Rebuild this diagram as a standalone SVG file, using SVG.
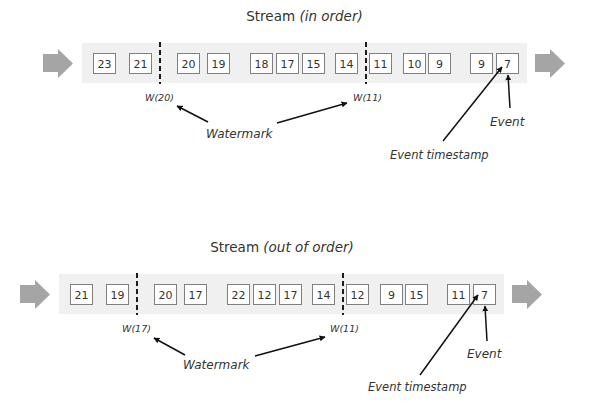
<svg xmlns="http://www.w3.org/2000/svg" width="600" height="413" viewBox="0 0 600 413">
<defs>
<style>
.bg{fill:#ffffff}
.band{fill:#f0f0f0}
.flow{fill:#a5a5a5}
.box rect{fill:#ffffff;stroke:#7f7f7f;stroke-width:1}
.box text{font-family:"DejaVu Sans",Verdana,sans-serif;font-size:11px;fill:#333333;text-anchor:middle}
.title{font-family:"DejaVu Sans",Verdana,sans-serif;font-size:13.5px;fill:#333333;text-anchor:middle}
.it{font-style:italic}
.wm{fill:none;stroke:#1a1a1a;stroke-width:2;stroke-dasharray:5,3}
.wlabel{font-family:"DejaVu Sans",Verdana,sans-serif;font-size:9.5px;font-style:italic;fill:#333333}
.note{font-family:"DejaVu Sans",Verdana,sans-serif;font-size:12px;font-style:italic;fill:#333333}
.conn line{stroke:#111111;stroke-width:1.5;marker-end:url(#ah)}
</style>
<marker id="ah" viewBox="0 0 10 10" refX="9" refY="5" markerWidth="6" markerHeight="6" markerUnits="userSpaceOnUse" orient="auto">
<path d="M0,0 L10,5 L0,10 z" fill="#111111"/>
</marker>
</defs>
<rect class="bg" x="0" y="0" width="600" height="413"/>

<g id="stream-in-order">
  <text class="title" x="304.5" y="21">Stream <tspan class="it">(in order)</tspan></text>
  <rect class="band" x="82" y="43" width="445" height="40"/>
  <path class="flow" d="M43,54 H58 V49 L73,63.5 L58,78 V72 H43 Z"/>
  <path class="flow" d="M535,54 H550 V49 L565,63.5 L550,78 V72 H535 Z"/>
  <g id="a23" class="box"><rect x="93.5" y="53.5" width="22" height="20"/><text x="104.5" y="68">23</text></g>
  <g id="a21" class="box"><rect x="129.5" y="53.5" width="22" height="20"/><text x="140.5" y="68">21</text></g>
  <g id="a20" class="box"><rect x="177.5" y="53.5" width="22" height="20"/><text x="188.5" y="68">20</text></g>
  <g id="a19" class="box"><rect x="207.5" y="53.5" width="22" height="20"/><text x="218.5" y="68">19</text></g>
  <g id="a18" class="box"><rect x="250.5" y="53.5" width="22" height="20"/><text x="261.5" y="68">18</text></g>
  <g id="a17" class="box"><rect x="276.5" y="53.5" width="22" height="20"/><text x="287.5" y="68">17</text></g>
  <g id="a15" class="box"><rect x="302.5" y="53.5" width="22" height="20"/><text x="313.5" y="68">15</text></g>
  <g id="a14" class="box"><rect x="335.5" y="53.5" width="22" height="20"/><text x="346.5" y="68">14</text></g>
  <g id="a11" class="box"><rect x="369.5" y="53.5" width="22" height="20"/><text x="380.5" y="68">11</text></g>
  <g id="a10" class="box"><rect x="403.5" y="53.5" width="22" height="20"/><text x="414.5" y="68">10</text></g>
  <g id="a9" class="box"><rect x="428.5" y="53.5" width="22" height="20"/><text x="439.5" y="68">9</text></g>
  <g id="a9b" class="box"><rect x="470.5" y="53.5" width="22" height="20"/><text x="481.5" y="68">9</text></g>
  <g id="a7" class="box"><rect x="496.5" y="53.5" width="22" height="20"/><text x="507.5" y="68">7</text></g>
  <g id="a-w20"><line class="wm" x1="160" y1="42" x2="160" y2="84"/><text class="wlabel" x="145" y="101">W(20)</text></g>
  <g id="a-w11"><line class="wm" x1="366" y1="42" x2="366" y2="84"/><text class="wlabel" x="353" y="101">W(11)</text></g>
  <g id="a-watermark"><text class="note" x="206" y="138">Watermark</text></g>
  <g id="a-event"><text class="note" x="490" y="126">Event</text></g>
  <g id="a-timestamp"><text class="note" x="390" y="159" style="font-size:11.5px">Event timestamp</text></g>
  <g id="a-connectors" class="conn">
    <line x1="208" y1="122" x2="177" y2="106"/>
    <line x1="277" y1="123" x2="347" y2="103"/>
    <line x1="510" y1="108" x2="508" y2="75"/>
    <line x1="443" y1="141" x2="502" y2="67"/>
  </g>
</g>

<g id="stream-out-of-order" transform="translate(-23,231)">
  <text class="title" x="305" y="21">Stream <tspan class="it">(out of order)</tspan></text>
  <rect class="band" x="82" y="43" width="445" height="40"/>
  <path class="flow" d="M43,54 H58 V49 L73,63.5 L58,78 V72 H43 Z"/>
  <path class="flow" d="M535,54 H550 V49 L565,63.5 L550,78 V72 H535 Z"/>
  <g id="b21" class="box"><rect x="93.5" y="53.5" width="22" height="20"/><text x="104.5" y="68">21</text></g>
  <g id="b19" class="box"><rect x="129.5" y="53.5" width="22" height="20"/><text x="140.5" y="68">19</text></g>
  <g id="b20" class="box"><rect x="177.5" y="53.5" width="22" height="20"/><text x="188.5" y="68">20</text></g>
  <g id="b17" class="box"><rect x="207.5" y="53.5" width="22" height="20"/><text x="218.5" y="68">17</text></g>
  <g id="b22" class="box"><rect x="250.5" y="53.5" width="22" height="20"/><text x="261.5" y="68">22</text></g>
  <g id="b12" class="box"><rect x="276.5" y="53.5" width="22" height="20"/><text x="287.5" y="68">12</text></g>
  <g id="b17b" class="box"><rect x="302.5" y="53.5" width="22" height="20"/><text x="313.5" y="68">17</text></g>
  <g id="b14" class="box"><rect x="335.5" y="53.5" width="22" height="20"/><text x="346.5" y="68">14</text></g>
  <g id="b12b" class="box"><rect x="369.5" y="53.5" width="22" height="20"/><text x="380.5" y="68">12</text></g>
  <g id="b9" class="box"><rect x="403.5" y="53.5" width="22" height="20"/><text x="414.5" y="68">9</text></g>
  <g id="b15" class="box"><rect x="428.5" y="53.5" width="22" height="20"/><text x="439.5" y="68">15</text></g>
  <g id="b11" class="box"><rect x="470.5" y="53.5" width="22" height="20"/><text x="481.5" y="68">11</text></g>
  <g id="b7" class="box"><rect x="496.5" y="53.5" width="22" height="20"/><text x="507.5" y="68">7</text></g>
  <g id="b-w17"><line class="wm" x1="160" y1="42" x2="160" y2="84"/><text class="wlabel" x="145" y="101">W(17)</text></g>
  <g id="b-w11"><line class="wm" x1="366" y1="42" x2="366" y2="84"/><text class="wlabel" x="353" y="101">W(11)</text></g>
  <g id="b-watermark"><text class="note" x="206" y="138">Watermark</text></g>
  <g id="b-event"><text class="note" x="490" y="127">Event</text></g>
  <g id="b-timestamp"><text class="note" x="391" y="160" style="font-size:11.5px">Event timestamp</text></g>
  <g id="b-connectors" class="conn">
    <line x1="208" y1="124" x2="177" y2="107"/>
    <line x1="278" y1="125" x2="348" y2="106"/>
    <line x1="510" y1="110" x2="508" y2="75"/>
    <line x1="443" y1="144" x2="501" y2="64"/>
  </g>
</g>
</svg>
